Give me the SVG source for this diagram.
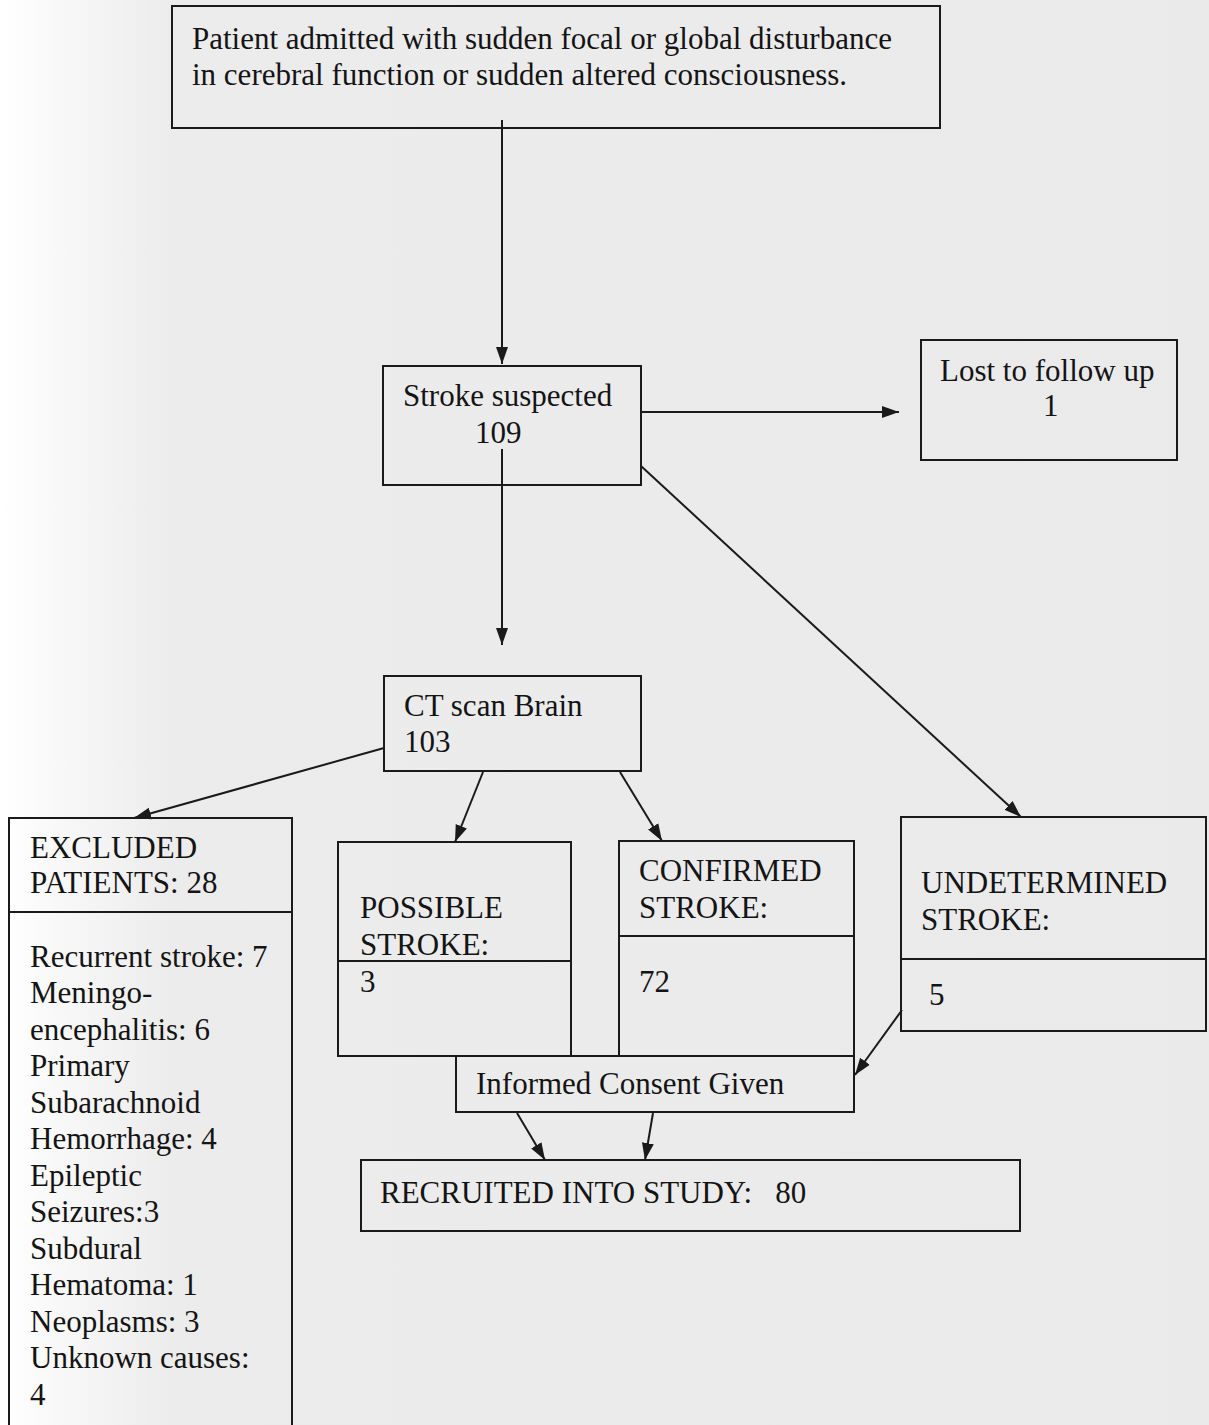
<svg xmlns="http://www.w3.org/2000/svg" width="1209" height="1425" viewBox="0 0 1209 1425">
<style>
.box{fill:none;stroke:#1a1a1a;stroke-width:2}
.div{stroke:#1a1a1a;stroke-width:2}
.t{font-family:"Liberation Serif","Times New Roman",serif;font-size:31px;fill:#141414}
.c{stroke:#1a1a1a;stroke-width:2;fill:none;marker-end:url(#ah)}
</style>
<defs>
<linearGradient id="bg" x1="0" y1="0" x2="1" y2="0">
<stop offset="0" stop-color="#ffffff"/>
<stop offset="0.05" stop-color="#f8f8f8"/>
<stop offset="0.14" stop-color="#ececec"/>
<stop offset="1" stop-color="#eaeaea"/>
</linearGradient>
<marker id="ah" markerWidth="18" markerHeight="14" refX="17" refY="7" orient="auto" markerUnits="userSpaceOnUse">
<path d="M0,1 L17,7 L0,13 Z" fill="#1a1a1a"/>
</marker>
</defs>
<rect x="0" y="0" width="1209" height="1425" fill="url(#bg)"/>

<g id="connectors">
<line class="c" x1="502" y1="120" x2="502" y2="364"/>
<line class="c" x1="641" y1="412" x2="899" y2="412"/>
<line class="c" x1="502" y1="449" x2="502" y2="645"/>
<line class="c" x1="641" y1="466" x2="1021" y2="817"/>
<line class="c" x1="384" y1="748" x2="134" y2="818"/>
<line class="c" x1="483" y1="772" x2="455" y2="842"/>
<line class="c" x1="620" y1="772" x2="662" y2="841"/>
<line class="c" x1="902" y1="1010" x2="855" y2="1075"/>
<line class="c" x1="517" y1="1113" x2="545" y2="1160"/>
<line class="c" x1="653" y1="1113" x2="645" y2="1160"/>
</g>

<g id="admitted">
<rect class="box" x="172" y="6" width="768" height="122"/>
<text class="t" x="192" y="49">Patient admitted with sudden focal or global disturbance</text>
<text class="t" x="192" y="85">in cerebral function or sudden altered consciousness.</text>
</g>

<g id="suspected">
<rect class="box" x="383" y="366" width="258" height="119"/>
<text class="t" x="403" y="406">Stroke suspected</text>
<text class="t" x="475" y="443">109</text>
</g>

<g id="lost">
<rect class="box" x="921" y="340" width="256" height="120"/>
<text class="t" x="940" y="381">Lost to follow up</text>
<text class="t" x="1043" y="416">1</text>
</g>

<g id="ctscan">
<rect class="box" x="384" y="676" width="257" height="95"/>
<text class="t" x="404" y="716">CT scan Brain</text>
<text class="t" x="404" y="752">103</text>
</g>

<g id="excluded">
<rect class="box" x="9" y="818" width="283" height="620"/>
<line class="div" x1="9" y1="912" x2="292" y2="912"/>
<text class="t" x="30" y="858">EXCLUDED</text>
<text class="t" x="30" y="893">PATIENTS: 28</text>
<text class="t" x="30" y="967">Recurrent stroke: 7</text>
<text class="t" x="30" y="1003">Meningo-</text>
<text class="t" x="30" y="1040">encephalitis: 6</text>
<text class="t" x="30" y="1076">Primary</text>
<text class="t" x="30" y="1113">Subarachnoid</text>
<text class="t" x="30" y="1149">Hemorrhage: 4</text>
<text class="t" x="30" y="1186">Epileptic</text>
<text class="t" x="30" y="1222">Seizures:3</text>
<text class="t" x="30" y="1259">Subdural</text>
<text class="t" x="30" y="1295">Hematoma: 1</text>
<text class="t" x="30" y="1332">Neoplasms: 3</text>
<text class="t" x="30" y="1368">Unknown causes:</text>
<text class="t" x="30" y="1405">4</text>
</g>

<g id="possible">
<rect class="box" x="338" y="842" width="233" height="214"/>
<line class="div" x1="338" y1="961" x2="571" y2="961"/>
<text class="t" x="360" y="918">POSSIBLE</text>
<text class="t" x="360" y="955">STROKE:</text>
<text class="t" x="360" y="992">3</text>
</g>

<g id="confirmed">
<rect class="box" x="619" y="841" width="235" height="215"/>
<line class="div" x1="619" y1="936" x2="854" y2="936"/>
<text class="t" x="639" y="881">CONFIRMED</text>
<text class="t" x="639" y="918">STROKE:</text>
<text class="t" x="639" y="992">72</text>
</g>

<g id="undetermined">
<rect class="box" x="901" y="817" width="305" height="214"/>
<line class="div" x1="901" y1="959" x2="1206" y2="959"/>
<text class="t" x="921" y="893">UNDETERMINED</text>
<text class="t" x="921" y="930">STROKE:</text>
<text class="t" x="929" y="1005">5</text>
</g>

<g id="consent">
<rect class="box" x="456" y="1056" width="398" height="56"/>
<text class="t" x="476" y="1094">Informed Consent Given</text>
</g>

<g id="recruited">
<rect class="box" x="361" y="1160" width="659" height="71"/>
<text class="t" x="380" y="1203" xml:space="preserve">RECRUITED INTO STUDY:   80</text>
</g>
</svg>
